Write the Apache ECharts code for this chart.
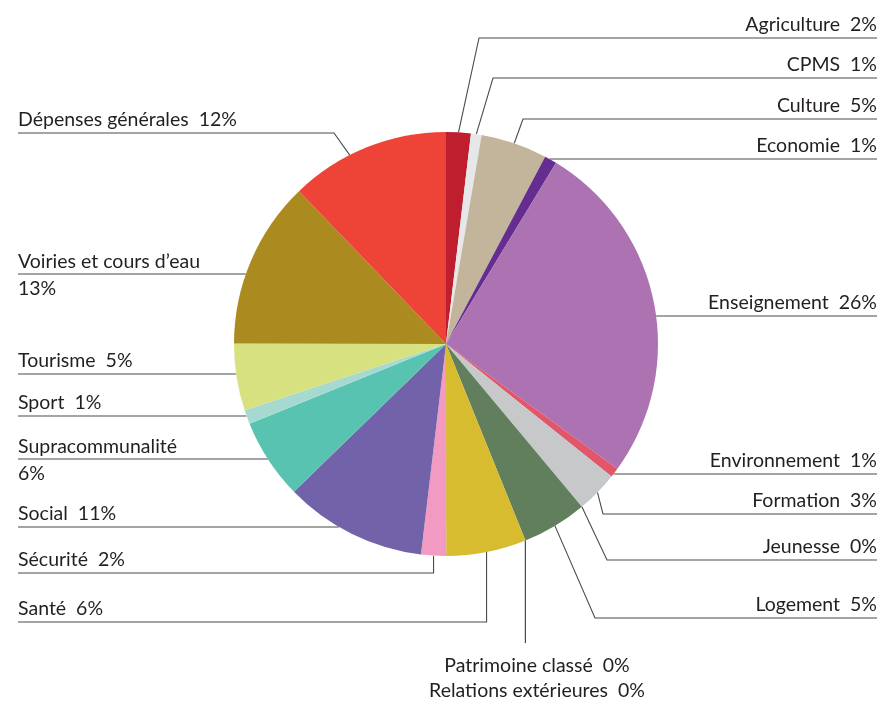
<!DOCTYPE html>
<html><head><meta charset="utf-8">
<script src="https://cdn.jsdelivr.net/npm/echarts@6/dist/echarts.min.js"></script>
<style>html,body{margin:0;padding:0;background:#fff}#c{width:895px;height:703px}</style>
</head><body><div id="c"></div>
<script>
const categories = ['Agriculture','CPMS','Culture','Economie','Enseignement','Environnement','Formation','Jeunesse','Logement','Patrimoine classé','Relations extérieures','Santé','Sécurité','Social','Supracommunalité','Sport','Tourisme','Voiries et cours d’eau','Dépenses générales'];
const shares = [1.88,0.81,5.06,0.94,26.33,0.73,3.19,0,4.96,0,0,6.10,1.90,10.85,6.14,1.07,5.10,12.77,12.20];
const colors = ['#BE1E2D','#E6E7E8','#C3B59B','#662D91','#AC72B1','#E2566A','#C7C8CA','#9E9E9E','#617F5C','#8C6D4F','#4F6D8C','#D8BC2F','#F39AC3','#7262AA','#58C3B0','#A6DAD0','#D8E17F','#AB8A20','#EE4337'];

// label guide layout (not data)
const CX = 446, CY = 344, R = 212, LEFT = 18, RIGHT = 877;
const guides = [
  {side:'r', y:38, bend:479},
  {side:'r', y:78, bend:493},
  {side:'r', y:119, bend:523},
  {side:'r', y:159, edge:true},
  {side:'r', y:316, edge:true},
  {side:'r', y:474, edge:true},
  {side:'r', y:514, bend:603},
  {side:'r', y:560, bend:607},
  {side:'r', y:618, bend:595},
  {side:'b', y:643, tx:537, ty:666},
  {side:'b', y:643, tx:537, ty:691},
  {side:'l', y:622, vertical:true},
  {side:'l', y:573, vertical:true},
  {side:'l', y:527, edge:true},
  {side:'l', y:459, edge:true, wrap:true},
  {side:'l', y:416, edge:true},
  {side:'l', y:374, edge:true},
  {side:'l', y:274, edge:true, wrap:true},
  {side:'l', y:133, bend:334, deg:333}
];

const total = shares.reduce((a,b)=>a+b,0);
function anchorFallback(i){
  let c = 0; for (let k=0;k<i;k++) c += shares[k];
  const t = (c + shares[i]/2)/total*2*Math.PI;
  return [CX + R*Math.sin(t), CY - R*Math.cos(t)];
}

const chart = echarts.init(document.getElementById('c'), null, {renderer:'canvas'});
chart.setOption({
  animation: false,
  backgroundColor: '#ffffff',
  textStyle: {fontFamily: 'Lato'},
  series: [{
    type: 'pie',
    center: [CX, CY],
    radius: [0, R],
    startAngle: 90,
    clockwise: true,
    avoidLabelOverlap: false,
    stillShowZeroSum: true,
    itemStyle: {borderWidth: 0},
    emphasis: {disabled: true},
    data: categories.map((n,i)=>({name:n, value:shares[i], itemStyle:{color:colors[i]}})),
    label: {
      show: true,
      position: 'outside',
      color: '#231F20',
      fontFamily: 'Lato',
      fontSize: 19.5,
      lineHeight: 27,
      formatter: p => p.name + (guides[p.dataIndex].wrap ? '\n' : '  ') + Math.round(p.value) + '%'
    },
    labelLine: {show: true, length: 10, length2: 10, smooth: false, lineStyle: {color: '#4a4a4a', width: 1.1}},
    labelLayout: function(p){
      const i = p.dataIndex, g = guides[i];
      let a = (p.labelLinePoints && p.labelLinePoints[0]) ? p.labelLinePoints[0].slice() : anchorFallback(i);
      if (g.deg != null) { const t = g.deg*Math.PI/180; a = [CX + R*Math.sin(t), CY - R*Math.cos(t)]; }
      const endX = g.side === 'r' ? RIGHT : LEFT;
      let pts;
      if (g.edge) {
        const dx = Math.sqrt(R*R - (g.y-CY)*(g.y-CY));
        const ex = g.side === 'r' ? CX + dx : CX - dx;
        pts = [[ex, g.y],[ex, g.y],[endX, g.y]];
      } else if (g.side === 'b') {
        pts = [a, [a[0], g.y], [a[0], g.y]];
      } else if (g.vertical) {
        pts = [a, [a[0], g.y], [endX, g.y]];
      } else {
        pts = [a, [g.bend, g.y], [endX, g.y]];
      }
      if (g.side === 'b') {
        return {x: g.tx, y: g.ty, align: 'center', verticalAlign: 'middle', labelLinePoints: pts};
      }
      return {
        x: endX,
        y: g.wrap ? g.y + 1 : g.y - 13,
        align: g.side === 'r' ? 'right' : 'left',
        verticalAlign: 'middle',
        labelLinePoints: pts
      };
    }
  }]
});
</script>
</body></html>
